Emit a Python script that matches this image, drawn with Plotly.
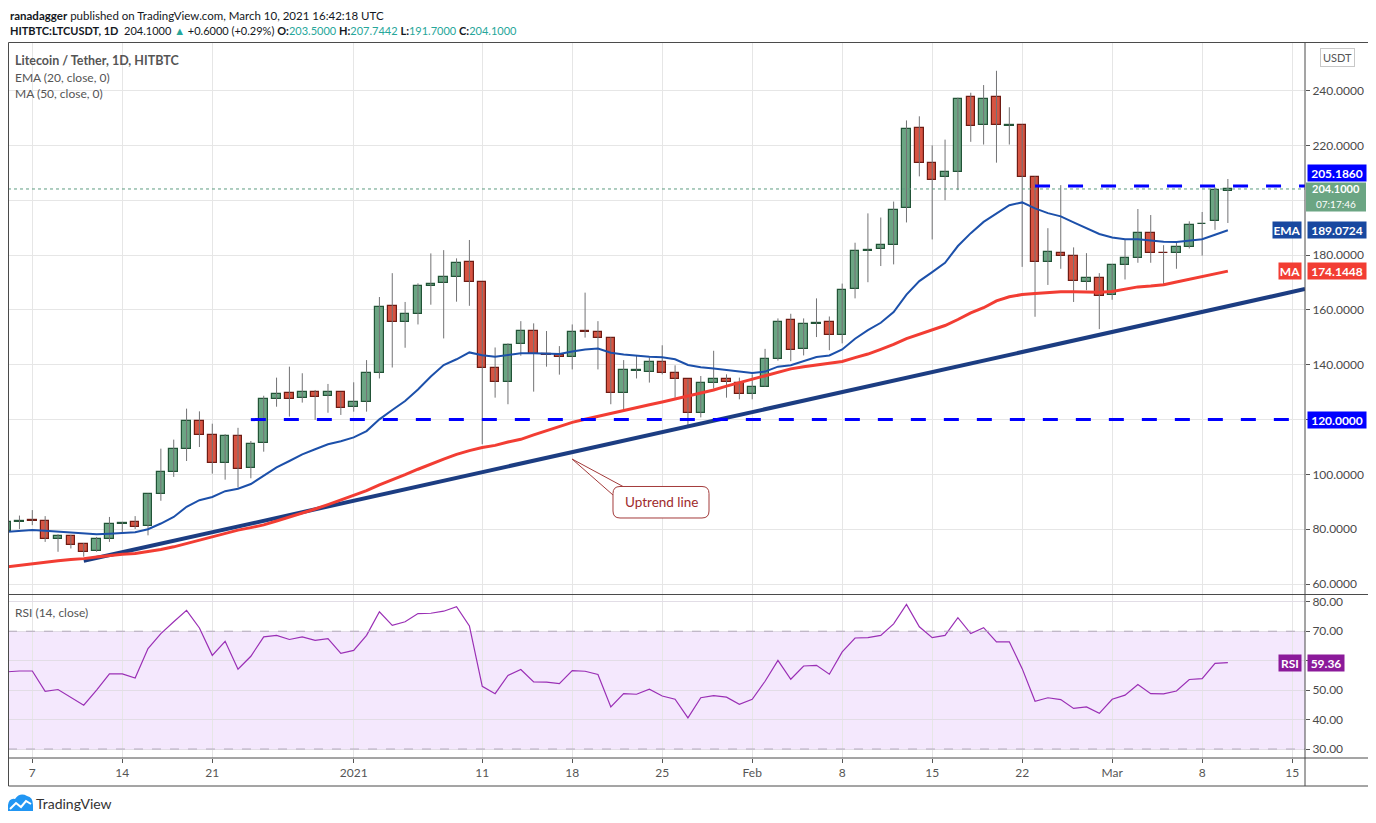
import pandas as pd
import plotly.graph_objects as go

# daily candles, 5 Dec 2020 -> 10 Mar 2021
dates = pd.date_range("2020-12-05", periods=96, freq="D")

opens = [79.4, 82.8, 83.3, 83.2, 76.6, 77.5, 74.8, 72.2, 76.6, 82.0,
         82.5, 81.2, 92.7, 101.0, 109.1, 119.6, 114.5, 104.3, 114.2, 102.2,
         111.3, 127.4, 129.6, 127.8, 129.9, 128.7, 129.9, 124.5, 126.3, 136.9,
         161.3, 155.5, 158.4, 168.9, 169.7, 171.9, 177.3, 170.0, 138.7, 133.6,
         147.4, 152.2, 143.8, 143.4, 142.9, 152.3, 151.8, 149.6, 129.6, 137.6,
         137.2, 140.9, 136.9, 134.7, 122.3, 133.2, 134.9, 133.4, 129.4, 132.0,
         142.2, 156.5, 145.8, 154.8, 155.7, 150.8, 167.7, 181.4, 182.3, 183.7,
         197.2, 226.4, 213.6, 208.4, 210.4, 237.8, 227.3, 237.6, 227.1, 227.3,
         208.3, 177.6, 180.9, 179.5, 170.3, 171.8, 165.6, 176.2, 179.1, 187.9,
         180.9, 180.6, 183.1, 191.3, 192.3, 203.5]
highs = [84.0, 85.0, 87.0, 84.8, 78.2, 78.0, 75.0, 77.2, 84.5, 82.7,
         84.8, 93.0, 109.4, 112.7, 124.0, 123.0, 118.5, 114.7, 117.0, 112.2,
         128.7, 135.3, 139.3, 136.9, 130.8, 133.0, 130.0, 133.6, 141.7, 164.7,
         173.4, 162.9, 169.7, 180.6, 181.8, 178.8, 185.5, 170.2, 146.3, 147.8,
         155.9, 155.1, 152.3, 146.8, 154.7, 166.3, 155.9, 150.0, 141.7, 143.4,
         142.7, 147.1, 139.8, 134.7, 135.9, 145.1, 136.5, 135.3, 136.5, 145.8,
         156.9, 158.6, 156.9, 164.2, 157.6, 169.6, 184.5, 195.2, 193.7, 199.5,
         229.1, 230.6, 220.0, 222.1, 237.4, 239.2, 242.0, 247.2, 233.9, 227.6,
         208.7, 189.8, 205.5, 182.8, 180.7, 173.4, 176.7, 185.8, 196.8, 194.6,
         183.6, 184.6, 192.3, 195.7, 204.7, 207.7442]
lows = [78.0, 80.1, 81.5, 75.4, 71.8, 73.0, 70.0, 71.8, 75.4, 79.0,
        80.1, 77.8, 90.4, 99.1, 104.9, 110.0, 100.3, 98.1, 95.2, 98.6,
        108.3, 124.7, 121.1, 126.2, 119.9, 122.5, 121.7, 122.9, 122.9, 135.0,
        139.0, 146.2, 154.7, 161.9, 149.6, 163.0, 161.5, 111.0, 128.0, 125.6,
        143.3, 130.2, 139.3, 136.4, 138.3, 149.9, 138.3, 125.6, 123.1, 135.0,
        133.5, 136.5, 128.0, 118.0, 120.8, 131.3, 128.0, 127.4, 127.4, 132.0,
        141.5, 141.3, 143.4, 150.1, 145.3, 147.8, 164.2, 170.1, 176.0, 176.6,
        191.9, 208.7, 185.7, 200.0, 203.7, 221.3, 220.3, 213.7, 220.3, 175.7,
        157.5, 169.1, 175.0, 162.9, 167.2, 153.0, 163.7, 171.1, 177.2, 177.2,
        168.8, 175.0, 182.4, 179.8, 189.2, 191.7]
closes = [82.7, 83.2, 83.0, 76.6, 77.5, 74.4, 71.9, 76.6, 82.1, 82.4,
          80.9, 92.7, 101.0, 109.1, 119.6, 114.5, 104.3, 114.2, 102.1, 111.0,
          127.4, 129.2, 127.4, 129.9, 128.4, 129.9, 124.1, 126.3, 136.9, 160.9,
          155.5, 158.4, 168.9, 169.4, 171.9, 177.0, 170.0, 138.7, 133.6, 147.1,
          152.2, 143.8, 143.4, 142.7, 151.8, 151.8, 149.6, 129.6, 138.0, 138.0,
          140.9, 136.9, 134.7, 122.3, 133.2, 134.7, 133.7, 129.4, 132.0, 142.2,
          155.7, 145.3, 154.9, 155.1, 150.8, 167.3, 181.6, 181.7, 183.7, 196.5,
          226.0, 213.6, 207.4, 210.4, 237.0, 226.9, 236.8, 227.3, 227.3, 208.3,
          177.6, 181.3, 179.5, 170.7, 171.8, 165.2, 176.2, 179.1, 187.9, 180.6,
          180.6, 182.8, 190.8, 191.5, 203.6, 204.1]

ema20 = [79.1, 79.4, 79.7, 79.5, 79.2, 78.9, 78.4, 78.2, 78.4, 78.7,
         78.9, 80.0, 82.1, 84.5, 88.2, 90.6, 91.8, 93.9, 94.8, 96.5,
         99.4, 102.6, 104.9, 107.3, 109.2, 111.0, 112.1, 113.5, 115.8, 120.1,
         123.5, 126.8, 131.0, 135.7, 139.9, 142.0, 144.5, 143.5, 142.9, 143.5,
         144.2, 144.2, 144.0, 143.9, 144.8, 145.6, 145.9, 144.4, 143.7, 143.2,
         142.9, 142.7, 142.0, 139.9, 139.1, 138.6, 138.0, 137.4, 137.0, 137.5,
         139.3, 139.8, 141.3, 142.8, 143.4, 145.6, 149.5, 152.6, 155.3, 159.2,
         165.6, 170.5, 173.8, 177.2, 183.3, 188.0, 192.1, 195.3, 198.2, 199.2,
         197.0, 195.3, 194.1, 191.9, 189.8, 187.7, 186.4, 185.8, 185.8, 185.4,
         184.9, 184.8, 185.2, 185.8, 187.4, 189.07]
ma50 = [66.3, 66.9, 67.5, 68.0, 68.5, 69.0, 69.3, 69.9, 70.5, 70.9,
        71.2, 71.8, 72.6, 73.6, 74.8, 76.0, 77.2, 78.4, 79.7, 80.6,
        81.6, 83.0, 84.4, 85.8, 87.4, 89.0, 90.7, 92.3, 94.1, 96.2,
        98.0, 99.9, 101.9, 103.8, 105.6, 107.3, 108.7, 109.8, 110.6, 111.8,
        112.8, 114.4, 116.0, 117.5, 119.0, 120.1, 121.2, 122.3, 123.4, 124.5,
        125.4, 126.4, 127.5, 128.8, 129.9, 130.8, 132.2, 133.5, 134.8, 136.1,
        137.3, 138.5, 139.3, 140.0, 140.5, 141.2, 142.6, 143.9, 145.6, 147.4,
        149.5, 151.1, 152.6, 154.3, 156.5, 158.9, 160.8, 163.3, 164.8, 165.6,
        166.0, 166.3, 166.6, 166.6, 166.6, 166.4, 166.7, 167.5, 168.4, 168.7,
        169.2, 170.2, 171.2, 172.2, 173.3, 174.14]
rsi14 = [56.2, 56.5, 56.5, 49.6, 50.2, 47.4, 44.9, 50.0, 55.5, 55.5,
         54.1, 64.1, 69.2, 73.2, 77.1, 71.1, 61.8, 66.6, 57.1, 61.5,
         68.1, 68.6, 67.2, 68.1, 66.9, 67.5, 62.5, 63.5, 68.6, 76.6,
         72.0, 73.2, 76.0, 76.1, 76.8, 78.3, 71.8, 51.3, 48.8, 55.0,
         57.0, 52.8, 52.7, 52.2, 56.6, 56.4, 55.3, 44.3, 48.8, 48.6,
         50.3, 48.0, 46.9, 40.6, 47.4, 48.1, 47.6, 45.2, 46.9, 53.0,
         60.1, 53.7, 58.2, 58.4, 55.4, 63.0, 67.7, 67.8, 68.6, 72.5,
         79.1, 71.5, 67.8, 68.6, 74.6, 69.2, 71.2, 66.4, 66.4, 57.3,
         46.2, 47.4, 46.8, 43.8, 44.3, 42.1, 46.9, 48.3, 51.9, 48.8,
         48.7, 49.7, 53.6, 53.9, 59.1, 59.36]

trend_dates = ["2020-12-11", "2021-03-16"]
trend_vals = [68.5, 167.6]
support_dates = ["2020-12-24", "2021-03-16"]
support_level = 120.0
resist_dates = ["2021-02-23", "2021-03-16"]
resist_level = 205.186
last_price = 204.1
ema_last = 189.0724
ma_last = 174.1448
countdown = "07:17:46"

tick_dates = ["2020-12-07", "2020-12-14", "2020-12-21", "2021-01-01", "2021-01-11",
              "2021-01-18", "2021-01-25", "2021-02-01", "2021-02-08", "2021-02-15",
              "2021-02-22", "2021-03-01", "2021-03-08", "2021-03-15"]
tick_text = ["7", "14", "21", "2021", "11", "18", "25", "Feb", "8", "15", "22", "Mar", "8", "15"]
price_ticks = [60, 80, 100, 120, 140, 160, 180, 200, 220, 240]
# the 200 label sits under the last-price box on the original, so it stays blank
price_labels = ["60.0000", "80.0000", "100.0000", "120.0000", "140.0000", "160.0000",
                "180.0000", "", "220.0000", "240.0000"]
rsi_ticks = [30, 40, 50, 60, 70, 80]

FONT = "Lato"
GREEN, GREEN_EDGE = "#6ba583", "#225437"
RED, RED_EDGE = "#d75442", "#6f1c14"

# the page puts the figure 8px in from the top-left corner, so all
# positions below are given in page pixels and shifted back here
OFF = 8
W, H = 1376 - OFF, 823 - OFF
PX0, PX1, PY0, PY1 = 8, 1305, 42, 758          # plot area on the page
L, R, T, B = PX0 - OFF, W - (PX1 - OFF), PY0 - OFF, H - (PY1 - OFF)


def px(x):
    return (x - PX0) / (PX1 - PX0)


def py(y):
    return (PY1 - y) / (PY1 - PY0)


def pt(x, y):
    return f"{px(x):.5f},{py(y):.5f}"


fig = go.Figure()

# wicks
wx, wy = [], []
for d, lo, hi in zip(dates, lows, highs):
    wx += [d, d, None]
    wy += [lo, hi, None]
fig.add_trace(go.Scatter(x=wx, y=wy, mode="lines", line=dict(color="#737375", width=1),
                         hoverinfo="skip", xaxis="x", yaxis="y"))

# bodies
up = [c >= o for o, c in zip(opens, closes)]
fig.add_trace(go.Bar(
    x=dates, y=[abs(c - o) for o, c in zip(opens, closes)],
    base=[min(o, c) for o, c in zip(opens, closes)],
    width=0.66 * 86400000,
    marker=dict(color=[GREEN if u else RED for u in up],
                line=dict(color=[GREEN_EDGE if u else RED_EDGE for u in up], width=1.2)),
    xaxis="x", yaxis="y"))

fig.add_trace(go.Scatter(x=trend_dates, y=trend_vals, mode="lines",
                         line=dict(color="#1c3d82", width=4), xaxis="x", yaxis="y"))
fig.add_trace(go.Scatter(x=dates, y=ma50, mode="lines",
                         line=dict(color="#f23d33", width=3), xaxis="x", yaxis="y"))
fig.add_trace(go.Scatter(x=dates, y=ema20, mode="lines",
                         line=dict(color="#1c50aa", width=2), xaxis="x", yaxis="y"))
fig.add_trace(go.Scatter(x=support_dates, y=[support_level] * 2, mode="lines",
                         line=dict(color="#0000ff", width=3, dash="15px,18px"), xaxis="x", yaxis="y"))
fig.add_trace(go.Scatter(x=resist_dates, y=[resist_level] * 2, mode="lines",
                         line=dict(color="#0000ff", width=3, dash="15px,18px"), xaxis="x", yaxis="y"))

# RSI
fig.add_trace(go.Scatter(x=dates, y=rsi14, mode="lines",
                         line=dict(color="#9a2fb5", width=1.2), xaxis="x2", yaxis="y2"))

xrange = ["2020-12-05 02:37", "2021-03-16 00:00"]
axis_common = dict(range=xrange, tickvals=tick_dates, ticktext=tick_text, showgrid=True,
                   gridcolor="#e6e6e6", gridwidth=1, zeroline=False, showline=False)

fig.update_layout(
    width=W, height=H, margin=dict(l=L, r=R, t=T, b=B, pad=0),
    paper_bgcolor="white", plot_bgcolor="white", showlegend=False, hovermode=False,
    font=dict(family=FONT, size=12, color="#4a4a4a"),
    xaxis=dict(**axis_common, anchor="y", showticklabels=False, ticks=""),
    xaxis2=dict(**axis_common, anchor="y2", matches="x", ticks="outside", ticklen=4,
                tickcolor="#555", tickfont=dict(size=12, color="#555")),
    yaxis=dict(domain=[py(594), 1], range=[56.4, 257.7], side="right", anchor="x",
               tickvals=price_ticks, ticktext=price_labels, ticks="outside", ticklen=4,
               tickcolor="#555", tickfont=dict(size=12, color="#4a4a4a"),
               gridcolor="#e6e6e6", zeroline=False, showline=False),
    yaxis2=dict(domain=[0, py(595)], range=[26.95, 82.3], side="right", anchor="x2",
                tickvals=rsi_ticks, tickformat=".2f", ticks="outside", ticklen=4,
                tickcolor="#555", tickfont=dict(size=12, color="#4a4a4a"),
                gridcolor="#e2dde6", zeroline=False, showline=False),
    bargap=0,
)

shapes = []
# RSI band and its limits
shapes.append(dict(type="rect", xref="x2", yref="y2", x0=xrange[0], x1=xrange[1], y0=30, y1=70,
                   fillcolor="rgba(180, 90, 240, 0.14)", line_width=0, layer="below"))
for lvl in (30, 70):
    shapes.append(dict(type="line", xref="paper", yref="y2", x0=0, x1=1, y0=lvl, y1=lvl,
                       line=dict(color="#b3aabb", width=1, dash="dash")))
# last price dotted line
shapes.append(dict(type="line", xref="paper", yref="y", x0=0, x1=1, y0=last_price, y1=last_price,
                   line=dict(color="#5f9e82", width=1, dash="dot")))
# frame and separators
frame = "#4b4b4b"
shapes.append(dict(type="rect", xref="paper", yref="paper", x0=px(8.5), x1=px(1375.5),
                   y0=py(786), y1=py(42.5), line=dict(color=frame, width=1)))
for yy in (594.5, 758):
    shapes.append(dict(type="line", xref="paper", yref="paper", x0=px(8.5), x1=px(1375.5),
                       y0=py(yy), y1=py(yy), line=dict(color=frame, width=1)))
shapes.append(dict(type="line", xref="paper", yref="paper", x0=1, x1=1, y0=py(786), y1=py(42.5),
                   line=dict(color=frame, width=1)))
# green box behind the last price and the bar countdown
shapes.append(dict(type="rect", xref="paper", yref="paper", x0=px(1306), x1=px(1366),
                   y0=py(211.5), y1=py(182.5), fillcolor=GREEN, line_width=0))
# callout for the trend line label
shapes.append(dict(type="path", xref="paper", yref="paper",
                   path=f"M{pt(572, 459)} L{pt(623, 486.5)} L{pt(613, 495)} Z",
                   fillcolor="white", line=dict(color="#a33b3b", width=1)))
x0, x1, y0, y1, r = 613, 709, 486.5, 518, 7
shapes.append(dict(type="path", xref="paper", yref="paper", fillcolor="white",
                   line=dict(color="#a33b3b", width=1),
                   path=(f"M{pt(x0 + r, y0)} L{pt(x1 - r, y0)} Q{pt(x1, y0)} {pt(x1, y0 + r)} "
                         f"L{pt(x1, y1 - r)} Q{pt(x1, y1)} {pt(x1 - r, y1)} L{pt(x0 + r, y1)} "
                         f"Q{pt(x0, y1)} {pt(x0, y1 - r)} L{pt(x0, y0 + r)} Q{pt(x0, y0)} {pt(x0 + r, y0)} Z")))
# TradingView logo
shapes.append(dict(type="path", xref="paper", yref="paper", fillcolor="#2196f3", line_width=0,
                   path=(f"M{pt(8, 811)} L{pt(8, 805)} Q{pt(9, 798)} {pt(15, 799)} "
                         f"Q{pt(20, 792)} {pt(27, 796)} Q{pt(33, 797)} {pt(33, 805)} L{pt(33, 811)} Z")))
shapes.append(dict(type="path", xref="paper", yref="paper",
                   path=f"M{pt(10, 809)} L{pt(16, 803)} L{pt(21, 807)} L{pt(26, 801)} L{pt(31, 804)}",
                   line=dict(color="white", width=2)))
fig.update_layout(shapes=shapes)

teal = "#26a69a"
ann = []


def text(x, y, s, size=13, color="#4a4a4a", **kw):
    ann.append(dict(xref="paper", yref="paper", x=px(x), y=py(y), text=s, showarrow=False,
                    xanchor="left", yanchor="middle", font=dict(family=FONT, size=size, color=color), **kw))


text(8, 15, "<b>ranadagger</b> published on TradingView.com, March 10, 2021 16:42:18 UTC",
     size=11.5, color="#131722")
text(8, 30, ("<b>HITBTC:LTCUSDT, 1D</b>  204.1000 <span style='color:%s'>▲</span> +0.6000 (+0.29%%) "
             "<b>O:</b><span style='color:%s'>203.5000</span> <b>H:</b><span style='color:%s'>207.7442</span> "
             "<b>L:</b><span style='color:%s'>191.7000</span> <b>C:</b><span style='color:%s'>204.1000</span>")
     % ((teal,) * 5), size=11, color="#131722")
text(13, 60, "<b>Litecoin / Tether, 1D, HITBTC</b>", size=12.5, color="#555")
text(13, 77, "EMA (20, close, 0)", size=12, color="#555")
text(13, 94, "MA (50, close, 0)", size=12, color="#555")
text(13, 612, "RSI (14, close)", size=12, color="#555")
text(34, 804, "TradingView", size=14, color="#333")
ann.append(dict(xref="paper", yref="paper", x=px(661), y=py(502), text="Uptrend line", showarrow=False,
                xanchor="center", yanchor="middle", font=dict(family=FONT, size=13.5, color="#9e2a2b")))
ann.append(dict(xref="paper", yref="paper", x=px(1337), y=py(58), text="USDT", showarrow=False,
                xanchor="center", yanchor="middle", font=dict(family=FONT, size=11, color="#555"),
                bgcolor="white", bordercolor="#c8c8c8", borderwidth=1, borderpad=2))


def tag(y, s, bg, yref="y", xa=px(1307), anchor="left", width=56, yshift=0, size=12, height=14, pad=1):
    d = dict(xref="paper", yref=yref, x=xa, y=y, text=s, showarrow=False, xanchor=anchor,
             yanchor="middle", borderpad=pad, width=width, yshift=yshift,
             font=dict(family=FONT, size=size, color="white"))
    if bg:
        d["bgcolor"] = bg
    if height:
        d["height"] = height
    ann.append(d)


tag(resist_level, "<b>%.4f</b>" % resist_level, "#0000ff", yshift=13)
tag(last_price, "<b>%.4f</b>" % last_price, None, yshift=0.5, height=None, size=11, pad=0)
tag(last_price, countdown, None, yshift=-15.5, height=None, size=10, pad=0)
tag(ema20[-1], "<b>%.4f</b>" % ema_last, "#1848a0")
tag(ema20[-1], "<b>EMA</b>", "#1848a0", xa=px(1302), anchor="right", width=26)
tag(ma50[-1], "<b>%.4f</b>" % ma_last, "#f23d33")
tag(ma50[-1], "<b>MA</b>", "#f23d33", xa=px(1302), anchor="right", width=20)
tag(support_level, "<b>%.4f</b>" % support_level, "#0000ff")
tag(rsi14[-1], "<b>%.2f</b>" % rsi14[-1], "#8b1a9a", yref="y2", width=34)
tag(rsi14[-1], "<b>RSI</b>", "#8b1a9a", yref="y2", xa=px(1302), anchor="right", width=20)
fig.update_layout(annotations=ann)

fig.write_html("out.html")
